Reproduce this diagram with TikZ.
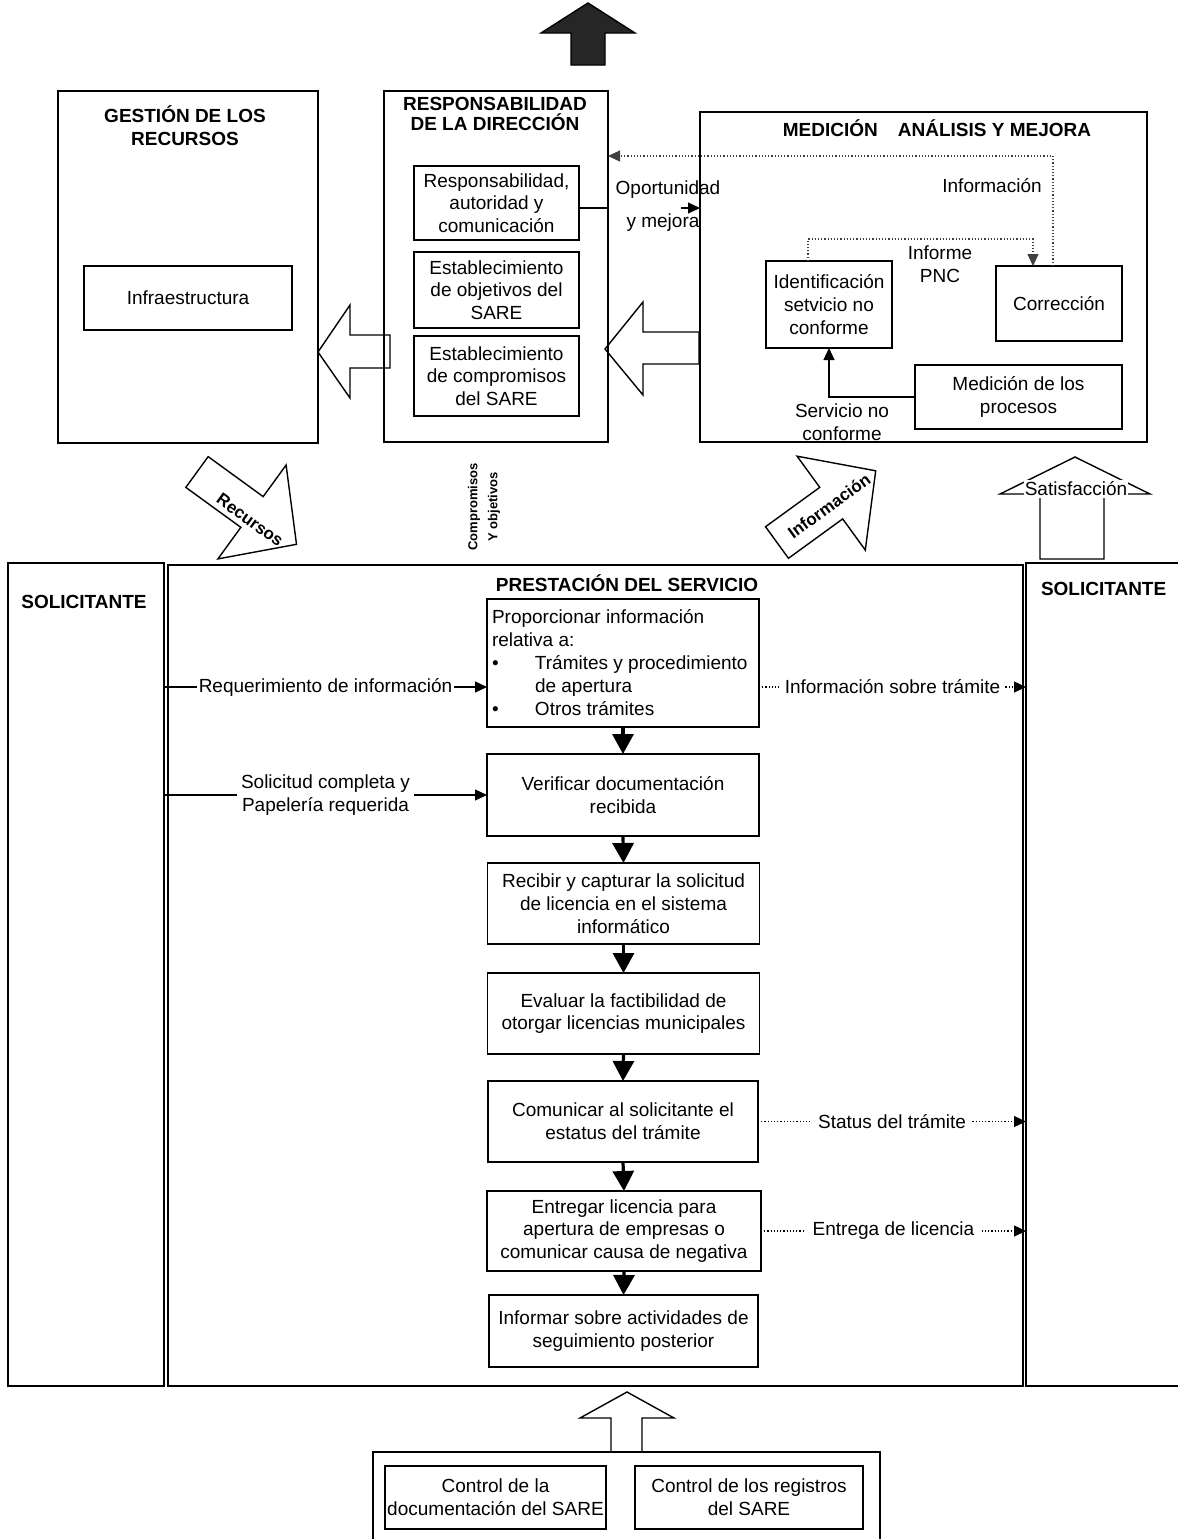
\documentclass[tikz,border=0pt]{standalone}
\usepackage{fontspec}
\setmainfont{Liberation Sans}
\usetikzlibrary{arrows.meta}
\newcommand{\fsn}{\fontsize{9.5pt}{11.4pt}\selectfont}

\begin{document}
\begin{tikzpicture}[x=0.5pt, y=-0.5pt,
  every node/.style={inner sep=0pt, outer sep=0pt, font=\fsn},
  frame/.style={draw, line width=0.7pt},
  box/.style={frame, align=center},
  ttl/.style={font=\fontsize{9.5pt}{10pt}\selectfont\bfseries, align=center},
  lbl/.style={align=center},
  lblw/.style={align=center, fill=white, inner xsep=2pt, inner ysep=1pt},
  conn/.style={line width=0.6pt, -{Triangle[length=6pt,width=5.5pt]}},
  dotconn/.style={line width=0.6pt, densely dotted, -{Triangle[length=6pt,width=5.5pt]}},
  flow/.style={line width=1.6pt, -{Triangle[length=10pt,width=10.5pt]}},
  hollow/.style={draw, line width=0.7pt, line join=miter},
]
\useasboundingbox (0,0) rectangle (1178,1539);
\clip (0,0) rectangle (1178,1539);

% ---------- upper band ----------
\draw[line width=0.7pt, fill=black!85] (571,65) -- (571,33) -- (541,33) -- (588,3)
  -- (635,33) -- (605,33) -- (605,65) -- cycle;

% Gestión de los recursos
\node[frame, minimum width=130pt, minimum height=176pt] (gest) at (188,267) {};
\node[ttl, font=\fontsize{9.5pt}{11.5pt}\selectfont\bfseries] (gestT) at (185,125.5) {GESTIÓN DE LOS\\RECURSOS};
\node[box, minimum width=104pt, minimum height=32pt] (infra) at (188,298) {Infraestructura};

% Responsabilidad de la dirección
\node[frame, minimum width=112pt, minimum height=175.5pt] (resp) at (496,266.5) {};
\node[ttl] (respT) at (495,113.5) {RESPONSABILIDAD\\DE LA DIRECCIÓN};
\node[box, minimum width=82.5pt, minimum height=37pt] (r1) at (496.5,203) {Responsabilidad,\\autoridad y\\comunicación};
\node[box, minimum width=82.5pt, minimum height=38pt] (r2) at (496.5,290) {Establecimiento\\de objetivos del\\SARE};
\node[box, minimum width=82.5pt, minimum height=40pt] (r3) at (496.5,376) {Establecimiento\\de compromisos\\del SARE};

% Medición, análisis y mejora
\node[frame, minimum width=223.5pt, minimum height=165pt] (med) at (923.5,277) {};
\node[ttl] (medT) at (937,128) {MEDICIÓN\hspace{10pt}ANÁLISIS Y MEJORA};
\node[box, minimum width=63pt, minimum height=43.5pt] (ident) at (829,304.5) {Identificación\\setvicio no\\conforme};
\node[box, minimum width=63pt, minimum height=37.5pt] (corr) at (1059,303.5) {Corrección};
\node[box, minimum width=103.5pt, minimum height=32pt] (medp) at (1018.5,397) {Medición de los\\procesos};

\node[lbl] (infoL) at (992,186) {Información};
\node[lbl] (pncL) at (940,264) {Informe\\PNC};
\node[lbl] (servL) at (842,422) {Servicio no\\conforme};
\node[lbl] (oppL1) at (668,190) {Oportunidad};
\node[lbl] (oppL2) at (663,223) {y mejora};

% connectors of the upper band
\coordinate (infoturn) at (1053,156);
\draw[dotconn, black!75] (corr.north -| infoturn) -- (infoturn) -- (infoturn -| resp.east);
\coordinate (pncA) at (808,239);
\coordinate (pncB) at (1033,239);
\draw[dotconn, black!75] (ident.north -| pncA) -- (pncA) -- (pncB) -- (pncB |- corr.north);
\draw[conn] (medp.west) -| (ident.south);
\coordinate (opp) at (681,208);
\draw[line width=0.6pt] (r1.east |- opp) -- (resp.east |- opp);
\draw[conn] (opp) -- (med.west |- opp);

% block arrows between the upper boxes
\draw[hollow] (390,335) -- (350,335) -- (350,305) -- (318,352) -- (350,398) -- (350,368) -- (390,368) -- cycle;
\draw[hollow] (699,332) -- (643,332) -- (643,302) -- (605,349) -- (643,395) -- (643,364) -- (699,364) -- cycle;

% ---------- middle band ----------
\begin{scope}[shift={(197,472)}, rotate=-36]
  \draw[hollow] (0,-19) -- (68,-19) -- (68,-58) -- (123,0) -- (68,58) -- (68,19) -- (0,19) -- cycle;
\end{scope}
\node[rotate=-36, font=\fontsize{8.5pt}{10pt}\selectfont\bfseries] (recL) at (250,520) {Recursos};

\node[rotate=90, align=center, font=\fontsize{6.5pt}{10pt}\selectfont\bfseries] (compL) at (484,507) {Compromisos\\Y objetivos};

\begin{scope}[shift={(777,542.5)}, rotate=36]
  \draw[hollow] (0,-19.5) -- (67,-19.5) -- (67,-58) -- (122,0) -- (67,58) -- (67,19.5) -- (0,19.5) -- cycle;
\end{scope}
\node[rotate=36, font=\fontsize{8.5pt}{10pt}\selectfont\bfseries] (infL) at (829,506) {Información};

\draw[hollow] (1040,559) -- (1040,494) -- (1000,494) -- (1075,457) -- (1150,494) -- (1104,494) -- (1104,559) -- cycle;
\node[lbl, fill=white, inner xsep=0.5pt, inner ysep=1pt] (satL) at (1076,489) {Satisfacción};

% ---------- service band ----------
\node[frame, minimum width=78pt, minimum height=411.5pt] (solL) at (86,974.5) {};
\node[ttl] (solLT) at (84,602) {SOLICITANTE};
\node[frame, minimum width=427.5pt, minimum height=410.5pt] (prest) at (595.5,975.5) {};
\node[ttl] (prestT) at (627,583) {PRESTACIÓN DEL SERVICIO};
\node[frame, minimum width=117pt, minimum height=411.5pt] (solR) at (1143,974.5) {};
\node[ttl, anchor=west] (solRT) at (1041,589) {SOLICITANTE};

\node[frame, minimum width=136pt, minimum height=64pt] (p1) at (623,663) {};
\node[anchor=west, align=left, font=\fontsize{9.5pt}{11.5pt}\selectfont] (p1txt) at (492,663)
  {Proporcionar información\\relativa a:\\\makebox[21.5pt][l]{\textbullet}Trámites y procedimiento\\\makebox[21.5pt][l]{}de apertura\\\makebox[21.5pt][l]{\textbullet}Otros trámites};
\node[box, minimum width=136pt, minimum height=41pt] (p2) at (623,795) {Verificar documentación\\recibida};
\node[box, minimum width=136pt, minimum height=40.5pt] (p3) at (623.5,903.5) {Recibir y capturar la solicitud\\de licencia en el sistema\\informático};
\node[box, minimum width=136pt, minimum height=40.5pt] (p4) at (623.5,1013.5) {Evaluar la factibilidad de\\otorgar licencias municipales};
\node[box, minimum width=135pt, minimum height=40.5pt] (p5) at (623,1121.5) {Comunicar al solicitante el\\estatus del trámite};
\node[box, minimum width=137pt, minimum height=40pt] (p6) at (624,1231) {Entregar licencia para\\apertura de empresas o\\comunicar causa de negativa};
\node[box, minimum width=134.5pt, minimum height=36pt] (p7) at (623.5,1331) {Informar sobre actividades de\\seguimiento posterior};

\draw[flow] (p1.south) -- (p2.north);
\draw[flow] (p2.south) -- (p3.north);
\draw[flow] (p3.south) -- (p4.north);
\draw[flow] (p4.south) -- (p5.north);
\draw[flow] (p5.south) -- (p6.north);
\draw[flow] (p6.south) -- (p7.north);

\coordinate (req) at (0,687);
\draw[conn] (solL.east |- req) -- node[lblw, inner xsep=1pt] (reqL) {Requerimiento de información} (p1.west |- req);
\draw[conn] (solL.east |- p2.west) -- node[lblw] (solcL) {Solicitud completa y\\Papelería requerida} (p2.west);
\draw[dotconn] (p1.east |- req) -- node[lblw] (infsL) {Información sobre trámite} (solR.west |- req);
\draw[dotconn] (p5.east) -- node[lblw, inner xsep=3pt] (statL) {Status del trámite} (solR.west |- p5.east);
\draw[dotconn] (p6.east) -- node[lblw, inner xsep=4pt] (entL) {Entrega de licencia} (solR.west |- p6.east);

% ---------- support band ----------
\draw[hollow] (611,1452) -- (611,1418) -- (580,1418) -- (627,1392) -- (674,1418) -- (642,1418) -- (642,1452);
\node[frame, minimum width=253.5pt, minimum height=55pt] (ctrl) at (626.5,1507) {};
\node[box, minimum width=110.5pt, minimum height=31.5pt] (c1) at (495.5,1497.5) {Control de la\\documentación del SARE};
\node[box, minimum width=114pt, minimum height=31.5pt] (c2) at (749,1497.5) {Control de los registros\\del SARE};
\end{tikzpicture}
\end{document}
